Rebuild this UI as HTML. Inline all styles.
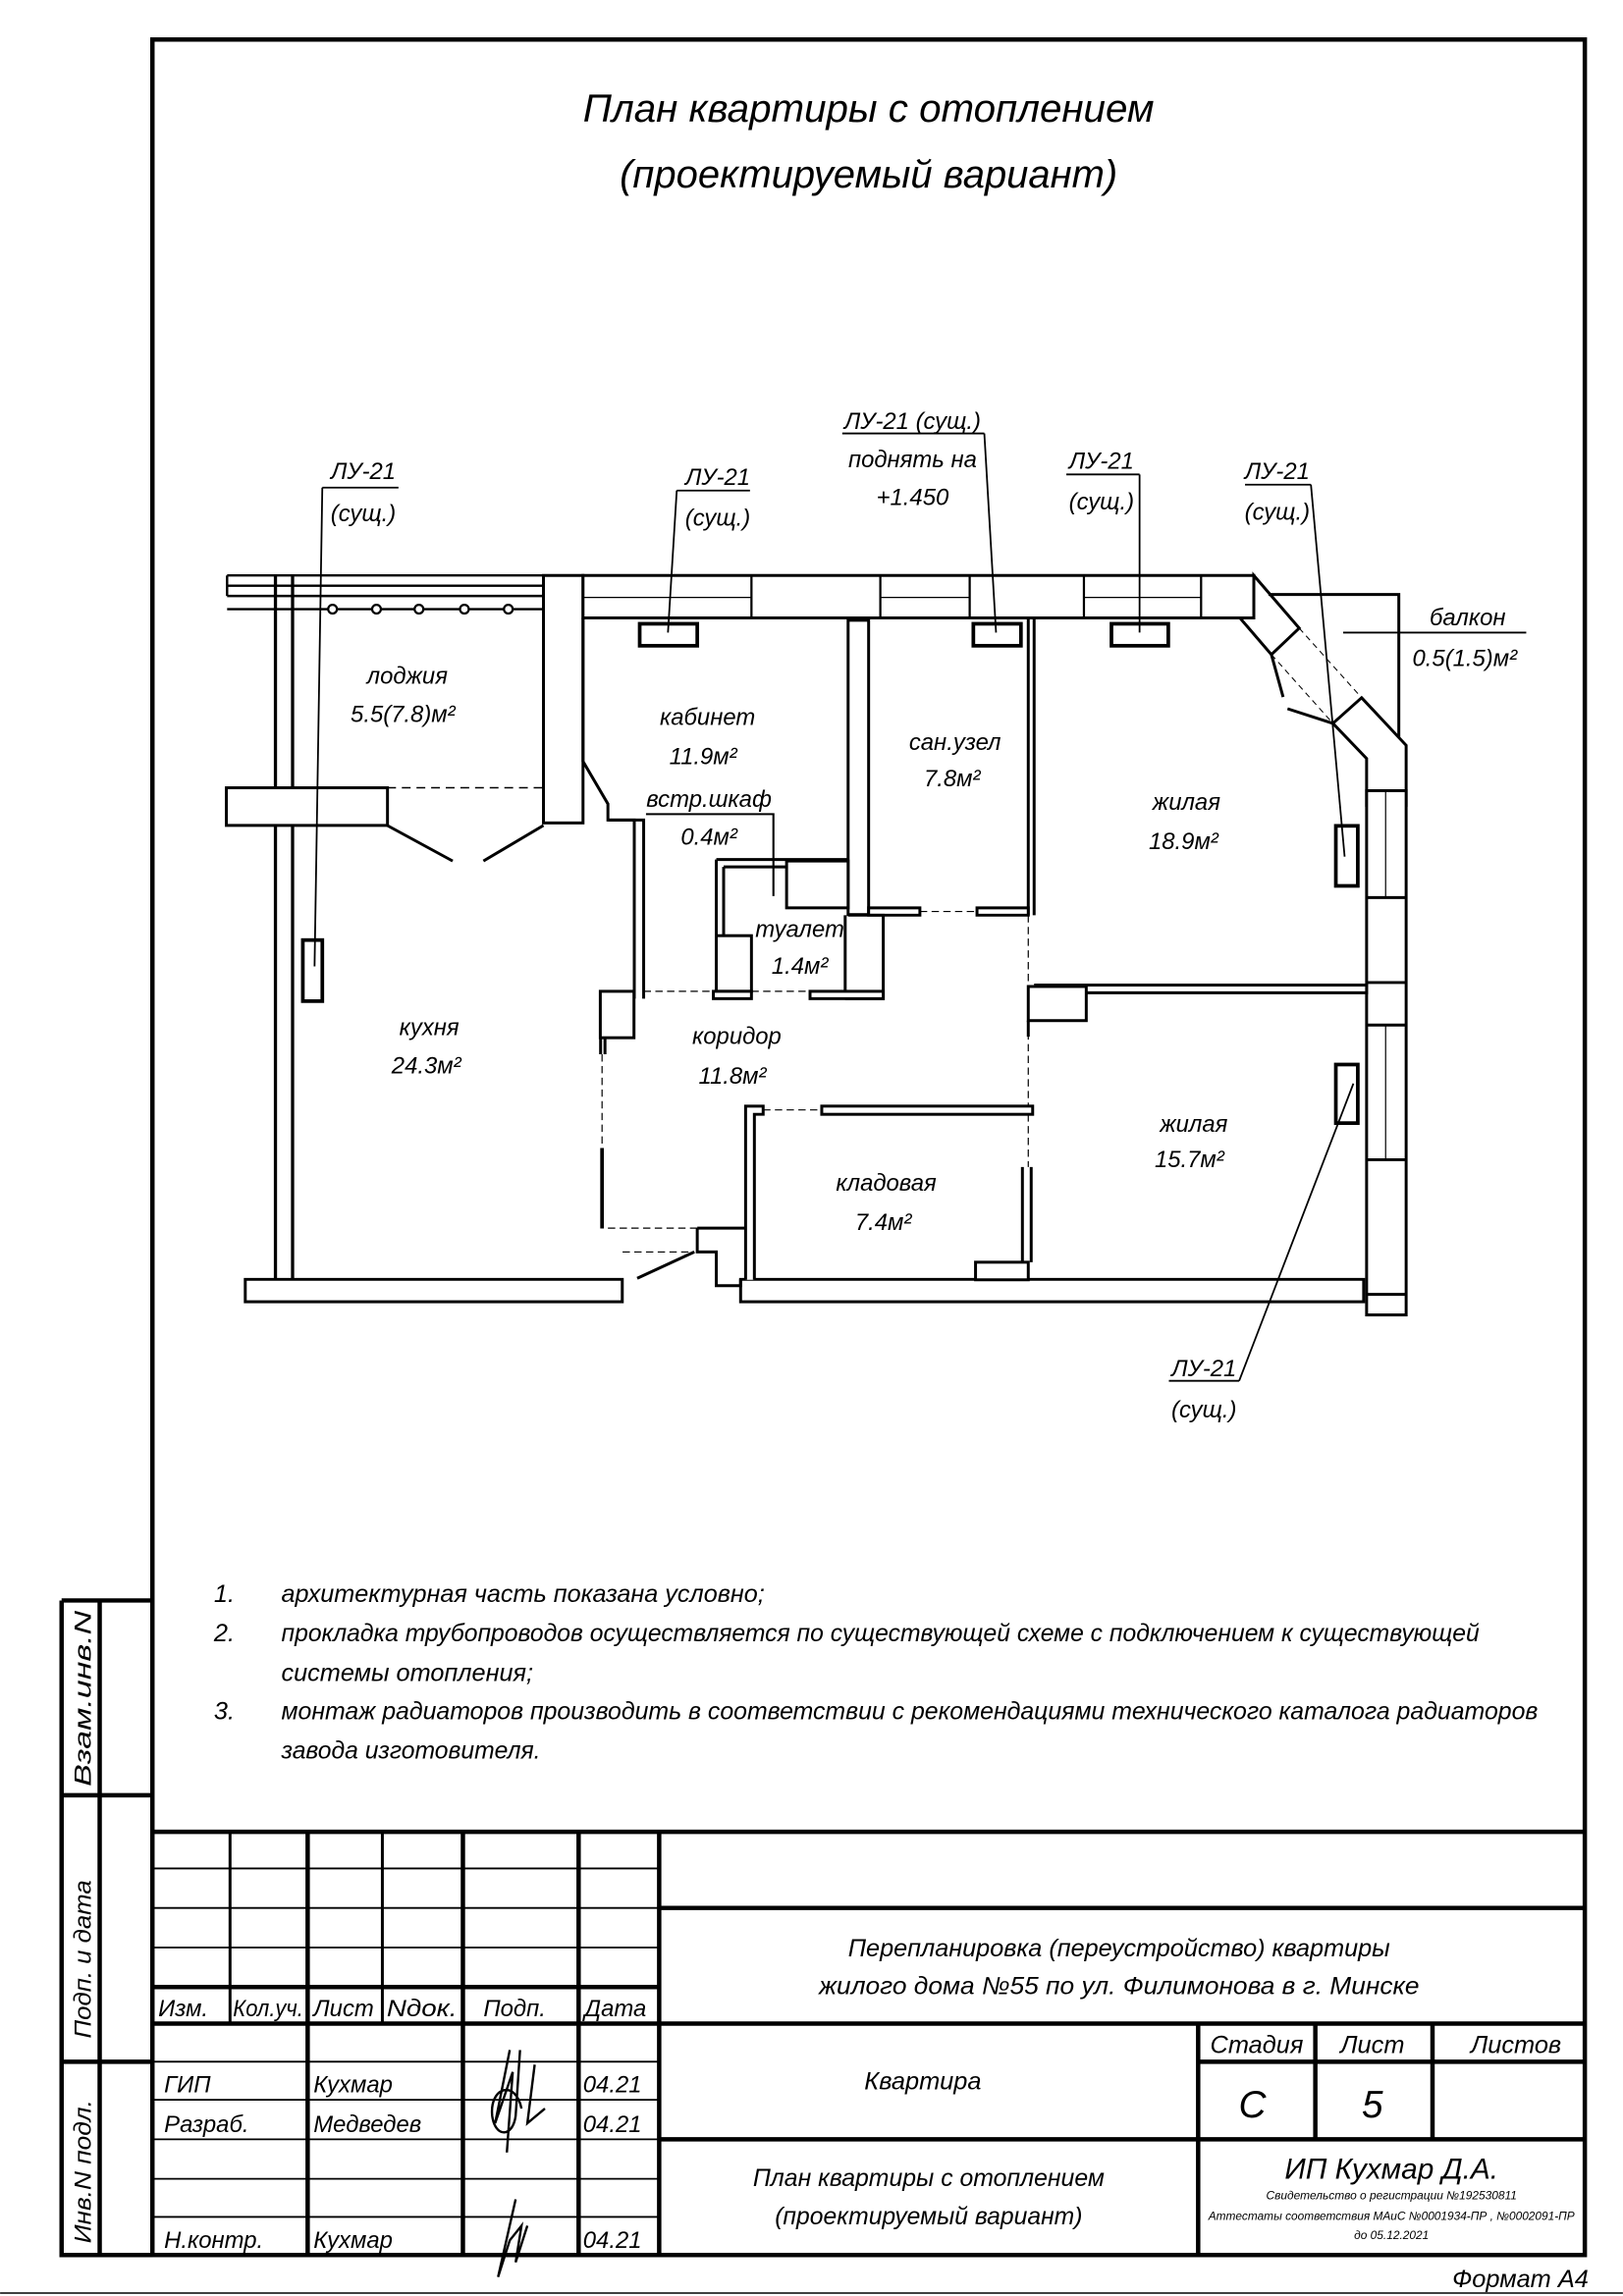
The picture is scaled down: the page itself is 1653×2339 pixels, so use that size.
<!DOCTYPE html>
<html><head><meta charset="utf-8"><style>
html,body{margin:0;padding:0;background:#fff;}
svg{display:block;}
text{font-family:"Liberation Sans",sans-serif;font-style:italic;fill:#000;}
</style></head><body>
<svg width="1653" height="2339" viewBox="0 0 1108 1568" xmlns="http://www.w3.org/2000/svg">
<rect width="1108" height="1568" fill="#fff"/>
<g fill="none" stroke="#000">
<!-- frame -->
<rect x="104" y="27" width="978" height="1513" stroke-width="3"/>
<!-- left strip -->
<path d="M42 1093H104M42 1093V1540H104M68 1093V1540M42 1226H104M42 1408H104" stroke-width="3"/>
<!-- title block -->
<path d="M104 1251H1082M450 1251V1540M104 1357H450M104 1382H1082M450 1303H1082M450 1461H1082M818 1382V1540M898 1382V1461M978 1382V1461M818 1408H1082" stroke-width="3"/>
<path d="M210 1251V1540M316 1251V1540M395 1251V1540" stroke-width="3"/>
<path d="M157 1251V1382M261 1251V1382" stroke-width="2"/>
<path d="M104 1276H450M104 1303H450M104 1330H450M104 1408H450M104 1434H450M104 1461H450M104 1488H450M104 1514H450" stroke-width="1.2"/>
<path d="M0 1566H1108" stroke-width="1"/>
</g>

<!-- ============ PLAN ============ -->
<g stroke="#000" fill="#fff" stroke-width="2">
<!-- loggia balustrade top -->
<path d="M155 393H371M155 400H371M155 407H371M155 416H371M155 393V407" stroke-width="1.6" fill="none"/>
<rect x="371" y="393" width="27" height="169"/>
<!-- top wall band -->
<rect x="398" y="393" width="458" height="29"/>
<path d="M513 393V422M601 393V422M662 393V422M740 393V422M820 393V422" fill="none" stroke-width="1.5"/>
<path d="M398 408H513M601 408H662M740 408H820" fill="none" stroke-width="0.8"/>
<!-- bay -->
<path d="M856 393L887 429L868 447L846.5 422H856Z"/>
<path d="M929.6 476.5L960 509V550H933V518L910 494Z"/>
<path d="M866 406H955V504" fill="none"/>
<path d="M887 429L929.6 476.5M868 447L910 494" fill="none" stroke-width="0.7" stroke-dasharray="4 3"/>
<path d="M868 447L876 476M879 484L910 494" fill="none" stroke-width="2"/>
<!-- right wall with windows -->
<rect x="933" y="540" width="27" height="358"/>
<path d="M933 540H960M933 613H960M933 671H960M933 700H960M933 792H960M933 884H960" fill="none"/>
<path d="M946 540V613M946 700V792" fill="none" stroke-width="0.8"/>
<!-- left walls -->
<path d="M188 393V875M199.7 393V875" fill="none" stroke-width="2.2"/>
<rect x="154.5" y="538" width="110" height="25.7"/>
<path d="M264.3 538H371" fill="none" stroke-width="1" stroke-dasharray="6 4"/>
<path d="M264.3 563.7L309 588M371 563.7L330 588" fill="none"/>
<!-- bottom walls -->
<path d="M167.4 873.7H424.8V889H167.4Z"/>
<path d="M505.6 873.7H931V889H505.6Z"/>
<!-- kabinet left / kitchen right -->
<path d="M398 422V520L415 549V560H433V682" fill="none"/>
<path d="M415 560H439.4V682" fill="none"/>
<!-- kabinet / sanuzel wall -->
<rect x="579" y="423.6" width="14" height="201"/>
<path d="M702 422V625M706 422V625" fill="none"/>
<path d="M593 620H628V625H593ZM667 620H702V625H667Z"/>
<path d="M628 622.5H667M702 625V673M702 697V797" fill="none" stroke-width="0.8" stroke-dasharray="5 3"/>
<!-- toilet / shkaf -->
<path d="M489 587H579M489 587V677M494 592H579M494 592V677" fill="none"/>
<rect x="537" y="588" width="42" height="32"/>
<rect x="489" y="639" width="24" height="38"/>
<path d="M577 625V677M579 625H603V682H577" fill="none"/>
<path d="M441 556H528V612" fill="none" stroke-width="1.4"/>
<!-- corridor top wall -->
<path d="M439.4 677H487M513 677H557" fill="none" stroke-width="0.8" stroke-dasharray="5 3"/>
<rect x="487" y="677" width="26" height="5"/>
<rect x="553" y="677" width="50" height="5"/>
<!-- living walls -->
<path d="M706 672.7H933V678H741" />
<rect x="702" y="673.7" width="39.6" height="23.3"/>
<path d="M702 697V708" fill="none"/>
<!-- corridor left -->
<rect x="409.8" y="677" width="23" height="31.7"/>
<path d="M410 708.7V720M413 720V708" fill="none"/>
<path d="M411 720V784" fill="none" stroke-width="0.8" stroke-dasharray="5 3"/>
<path d="M411 784V839" fill="none" stroke-width="2.5"/>
<path d="M415 838.7H476M425 855H474" fill="none" stroke-width="0.8" stroke-dasharray="5 3"/>
<path d="M474 855L435 873" fill="none"/>
<path d="M476 838.7H510M476 838.7V855H489V878H505.6V873.7" fill="none"/>
<!-- kladovaya -->
<path d="M509 874V755.4H521V761H515V874" />
<rect x="561" y="755.4" width="144" height="5.6"/>
<path d="M521 758H561" fill="none" stroke-width="0.8" stroke-dasharray="5 3"/>
<path d="M698 797V862M704 797V862" fill="none"/>
<rect x="666" y="862" width="36" height="12"/>
<!-- radiators -->
<rect x="436.7" y="426" width="39.3" height="15" stroke-width="2.5"/>
<rect x="664.5" y="426" width="32.5" height="15" stroke-width="2.5"/>
<rect x="758.8" y="426" width="38.8" height="15" stroke-width="2.5"/>
<rect x="206.7" y="642" width="13.3" height="41.7" stroke-width="2.5"/>
<rect x="912" y="564" width="15" height="41" stroke-width="2.5"/>
<rect x="912" y="727" width="15" height="40" stroke-width="2.5"/>
</g>
<!-- loggia circles -->
<g fill="#fff" stroke="#000" stroke-width="1.5">
<circle cx="227" cy="416" r="3"/><circle cx="257" cy="416" r="3"/><circle cx="286" cy="416" r="3"/><circle cx="317" cy="416" r="3"/><circle cx="347" cy="416" r="3"/>
</g>
<!-- leaders -->
<g fill="none" stroke="#000" stroke-width="1.2">
<path d="M220 333H272M220 333L214.7 660"/>
<path d="M462 335H512M462 335L456 432"/>
<path d="M575 296H672M672 296L680 432"/>
<path d="M728 324H778M778 324V432"/>
<path d="M850 331H895M895 331L918 585"/>
<path d="M798 943H846M846 943L924 740"/>
<path d="M917 432H1042"/>
</g>

<!-- plan labels -->
<g font-size="16" text-anchor="middle">
<text x="248" y="327">ЛУ-21</text><text x="248" y="356">(сущ.)</text>
<text x="490" y="331">ЛУ-21</text><text x="490" y="359">(сущ.)</text>
<text x="623" y="293">ЛУ-21 (сущ.)</text><text x="623" y="319">поднять на</text><text x="623" y="345">+1.450</text>
<text x="752" y="320">ЛУ-21</text><text x="752" y="348">(сущ.)</text>
<text x="872" y="327">ЛУ-21</text><text x="872" y="355">(сущ.)</text>
<text x="822" y="940">ЛУ-21</text><text x="822" y="968">(сущ.)</text>
<text x="1002" y="427">балкон</text><text x="1000" y="455">0.5(1.5)м²</text>
<text x="278" y="467">лоджия</text><text x="275" y="493">5.5(7.8)м²</text>
<text x="483" y="495">кабинет</text><text x="480" y="522">11.9м²</text>
<text x="484" y="551">встр.шкаф</text><text x="484" y="577">0.4м²</text>
<text x="652" y="512">сан.узел</text><text x="650" y="537">7.8м²</text>
<text x="810" y="553">жилая</text><text x="808" y="580">18.9м²</text>
<text x="546" y="640">туалет</text><text x="546" y="665">1.4м²</text>
<text x="293" y="707">кухня</text><text x="291" y="733">24.3м²</text>
<text x="503" y="713">коридор</text><text x="500" y="740">11.8м²</text>
<text x="815" y="773">жилая</text><text x="812" y="797">15.7м²</text>
<text x="605" y="813">кладовая</text><text x="603" y="840">7.4м²</text>
</g>

<!-- title -->
<g font-size="27" text-anchor="middle">
<text x="593" y="83" textLength="390" lengthAdjust="spacingAndGlyphs">План квартиры с отоплением</text>
<text x="593" y="128" textLength="340" lengthAdjust="spacingAndGlyphs">(проектируемый вариант)</text>
</g>

<!-- notes -->
<g font-size="17">
<text x="146" y="1094">1.</text><text x="192" y="1094" textLength="330" lengthAdjust="spacingAndGlyphs">архитектурная часть показана условно;</text>
<text x="146" y="1121">2.</text><text x="192" y="1121" textLength="818" lengthAdjust="spacingAndGlyphs">прокладка трубопроводов осуществляется по существующей схеме с подключением к существующей</text>
<text x="192" y="1148" textLength="172" lengthAdjust="spacingAndGlyphs">системы отопления;</text>
<text x="146" y="1174">3.</text><text x="192" y="1174" textLength="858" lengthAdjust="spacingAndGlyphs">монтаж радиаторов производить в соответствии с рекомендациями технического каталога радиаторов</text>
<text x="192" y="1201" textLength="177" lengthAdjust="spacingAndGlyphs">завода изготовителя.</text>
</g>

<!-- left strip rotated -->
<g font-size="16">
<text transform="translate(62,1220) rotate(-90)" textLength="120" lengthAdjust="spacingAndGlyphs">Взам.инв.N</text>
<text transform="translate(62,1392) rotate(-90)" textLength="108" lengthAdjust="spacingAndGlyphs">Подп. и дата</text>
<text transform="translate(62,1532) rotate(-90)" textLength="98" lengthAdjust="spacingAndGlyphs">Инв.N подл.</text>
</g>

<!-- title block text -->
<g font-size="16">
<text x="108" y="1377">Изм.</text><text x="159" y="1377" textLength="48" lengthAdjust="spacingAndGlyphs">Кол.уч.</text>
<text x="214" y="1377">Лист</text><text x="264" y="1377" textLength="48" lengthAdjust="spacingAndGlyphs">Nдок.</text>
<text x="330" y="1377">Подп.</text><text x="399" y="1377">Дата</text>
<text x="112" y="1429">ГИП</text><text x="214" y="1429">Кухмар</text><text x="398" y="1429">04.21</text>
<text x="112" y="1456">Разраб.</text><text x="214" y="1456">Медведев</text><text x="398" y="1456">04.21</text>
<text x="112" y="1535">Н.контр.</text><text x="214" y="1535">Кухмар</text><text x="398" y="1535">04.21</text>
</g>
<g font-size="17" text-anchor="middle">
<text x="764" y="1336" textLength="370" lengthAdjust="spacingAndGlyphs">Перепланировка (переустройство) квартиры</text>
<text x="764" y="1362" textLength="410" lengthAdjust="spacingAndGlyphs">жилого дома №55 по ул. Филимонова в г. Минске</text>
<text x="630" y="1427">Квартира</text>
<text x="858" y="1402">Стадия</text><text x="937" y="1402">Лист</text><text x="1035" y="1402">Листов</text>
<text x="634" y="1493" textLength="240" lengthAdjust="spacingAndGlyphs">План квартиры с отоплением</text>
<text x="634" y="1519" textLength="210" lengthAdjust="spacingAndGlyphs">(проектируемый вариант)</text>
</g>
<g text-anchor="middle">
<text x="855" y="1446" font-size="26">С</text>
<text x="937" y="1446" font-size="26">5</text>
<text x="950" y="1488" font-size="20">ИП Кухмар Д.А.</text>
<text x="950" y="1502" font-size="8">Свидетельство о регистрации №192530811</text>
<text x="950" y="1516" font-size="8" textLength="250" lengthAdjust="spacingAndGlyphs">Аттестаты соответствия МАиС №0001934-ПР , №0002091-ПР</text>
<text x="950" y="1529" font-size="8">до 05.12.2021</text>
<text x="1038" y="1562" font-size="17">Формат А4</text>
</g>
<!-- signatures -->
<g fill="none" stroke="#000" stroke-width="1.6">
<path d="M348 1400L338 1450L350 1415L346 1470M355 1400L352 1445C350 1460 338 1460 336 1445C334 1425 352 1420 356 1440M365 1410L360 1450L372 1440"/>
<path d="M352 1502L340 1555L348 1530L356 1520L352 1545L360 1520"/>
</g>
</svg>
</body></html>
